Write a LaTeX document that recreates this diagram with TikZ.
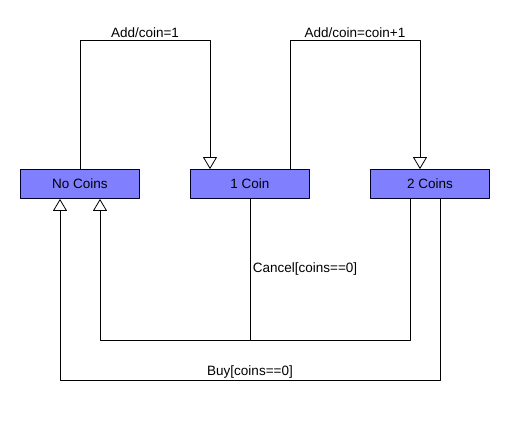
\documentclass[tikz,border=0pt]{standalone}
\usepackage{fontspec}
\setmainfont{Liberation Sans}
\usetikzlibrary{arrows.meta}

\begin{document}
\begin{tikzpicture}[x=1pt,y=1pt,line cap=round,line join=round]
    % styles
    \tikzstyle{state}=[draw=black!85!blue,fill=blue!50,line width=0.8pt,minimum width=119pt,minimum height=29pt,inner sep=0pt,font=\fontsize{13.5}{15}\selectfont]
    \tikzstyle{trans}=[draw=black,line width=0.8pt,-{Triangle[open,length=12pt,width=14pt,fill=white]}]
    \tikzstyle{lbl}=[font=\fontsize{13.5}{15}\selectfont,inner sep=1.5pt]

    \useasboundingbox (0,0) rectangle (510,420);

    % ----------------------------------------------------
    % states
    % ----------------------------------------------------
    \node[state] (nocoins) at (80,236) {No Coins};
    \node[state] (onecoin) at (250,236) {1 Coin};
    \node[state] (twocoins) at (430,236) {2 Coins};

    % levels of the routed lines
    \coordinate (topline) at (0,380);
    \coordinate (cancelline) at (0,80);
    \coordinate (buyline) at (0,40);

    % ----------------------------------------------------
    % add coin
    % ----------------------------------------------------
    \draw[trans] (nocoins.north) -- (nocoins.north |- topline)
       -- node[lbl,above] {Add/coin=1} ([xshift=-40pt]onecoin.north |- topline)
       -- ([xshift=-40pt]onecoin.north);
    \draw[trans] ([xshift=40pt]onecoin.north) -- ([xshift=40pt]onecoin.north |- topline)
       -- node[lbl,above] {Add/coin=coin+1} ([xshift=-10pt]twocoins.north |- topline)
       -- ([xshift=-10pt]twocoins.north);

    % ----------------------------------------------------
    % cancel
    % ----------------------------------------------------
    \draw[line width=0.8pt] (onecoin.south) -- node[lbl,right,xshift=1pt] {Cancel[coins==0]} (onecoin.south |- cancelline);
    \draw[trans] ([xshift=-20pt]twocoins.south) -- ([xshift=-20pt]twocoins.south |- cancelline)
       -- ([xshift=20pt]nocoins.south |- cancelline) -- ([xshift=20pt]nocoins.south);

    % ----------------------------------------------------
    % buy
    % ----------------------------------------------------
    \draw[trans] ([xshift=10pt]twocoins.south) -- ([xshift=10pt]twocoins.south |- buyline)
       -- node[lbl,above] {Buy[coins==0]} ([xshift=-20pt]nocoins.south |- buyline)
       -- ([xshift=-20pt]nocoins.south);
  \end{tikzpicture}
\end{document}
